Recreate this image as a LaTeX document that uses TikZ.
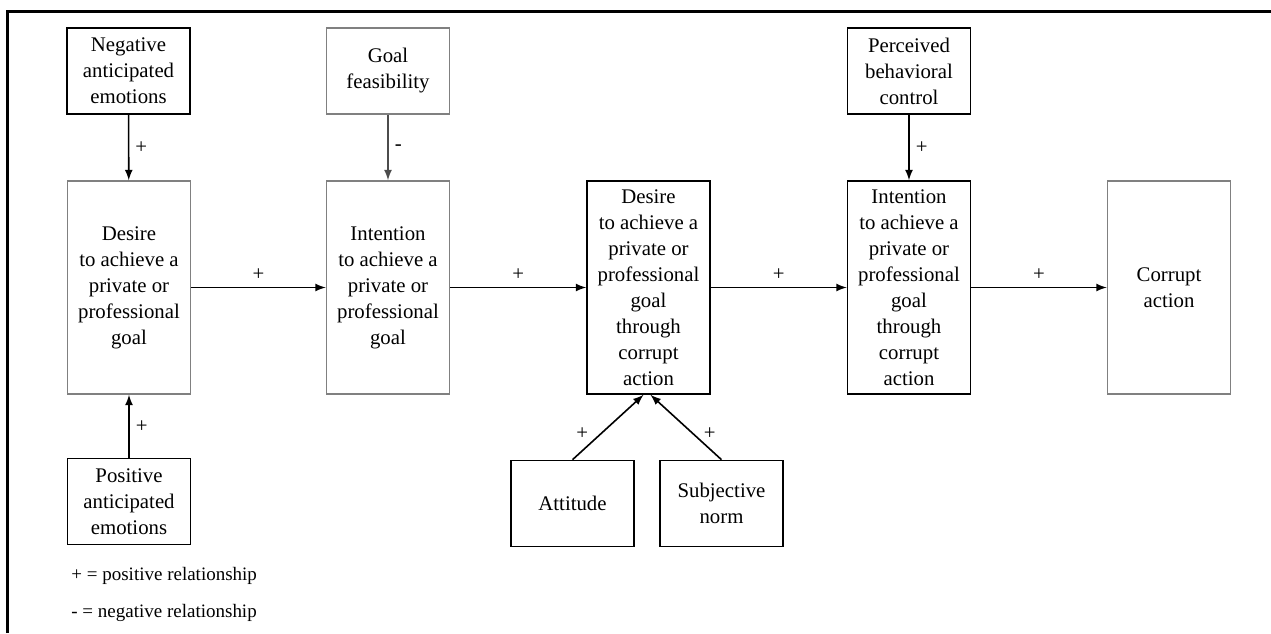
\documentclass[tikz,border=0pt]{standalone}
\usepackage{fontspec}
\setmainfont{Liberation Serif}
\usetikzlibrary{arrows,positioning,calc}

\begin{document}
\begin{tikzpicture}[x=0.5pt,y=-0.5pt,
    box/.style={rectangle,draw,line width=0.8pt,inner sep=1pt,align=center,minimum width=61.5pt,minimum height=43pt,font=\fontsize{10.4}{13}\selectfont},
    stagebox/.style={box,minimum height=106.5pt},
    faint/.style={draw=black!50},
    link/.style={-latex,line width=0.8pt},
    sign/.style={font=\fontsize{10.4}{13}\selectfont,inner sep=3pt},
    keytext/.style={anchor=west,inner sep=0pt,font=\fontsize{9.5}{12}\selectfont}]
    \useasboundingbox (0,0) rectangle (1271,633);
    \draw[line width=1.2pt] (7.5,633) -- (7.5,11.5) -- (1271,11.5);

    % upper row
    \node[box] (neg) at (128.5,71) {Negative\\anticipated\\emotions};
    \node[box,faint] (feas) at (388,71) {Goal\\feasibility};
    \node[box] (pbc) at (909,71) {Perceived\\behavioral\\control};

    % middle row
    \node[stagebox,faint] (desa) at (129,287.5) {Desire\\to achieve a\\private or\\professional\\goal};
    \node[stagebox,faint] (inta) at (388,287.5) {Intention\\to achieve a\\private or\\professional\\goal};
    \node[stagebox] (desb) at (648.5,287.5) {Desire\\to achieve a\\private or\\professional\\goal\\through\\corrupt\\action};
    \node[stagebox] (intb) at (909,287.5) {Intention\\to achieve a\\private or\\professional\\goal\\through\\corrupt\\action};
    \node[stagebox,faint] (act) at (1169,287.5) {Corrupt\\action};

    % lower row
    \node[box] (pos) at (129,501.5) {Positive\\anticipated\\emotions};
    \node[box] (att) at (572.5,503.5) {Attitude};
    \node[box] (subj) at (721.5,503.5) {Subjective\\norm};

    \draw[link] (neg) -- (desa) node[sign,midway,right] {+};
    \draw[link,black!70] (feas) -- (inta) node[sign,midway,right,black] {-};
    \draw[link] (pbc) -- (intb) node[sign,midway,right] {+};
    \draw[link] (pos) -- (desa) node[sign,midway,right] {+};

    \draw[link] (desa) -- (inta) node[sign,midway,above] {+};
    \draw[link] (inta) -- (desb) node[sign,midway,above] {+};
    \draw[link] (desb) -- (intb) node[sign,midway,above] {+};
    \draw[link] (intb) -- (act) node[sign,midway,above] {+};

    \draw[link] (att.north) -- ([xshift=-2.5pt]desb.south) node[sign,pos=0.4,left=3pt] {+};
    \draw[link] (subj.north) -- ([xshift=1pt]desb.south) node[sign,pos=0.4,right=2pt] {+};

    % key
    \node[keytext] (keypos) at (71,576) {+ = positive relationship};
    \node[keytext] (keyneg) at (71,613) {- = negative relationship};
\end{tikzpicture}
\end{document}
